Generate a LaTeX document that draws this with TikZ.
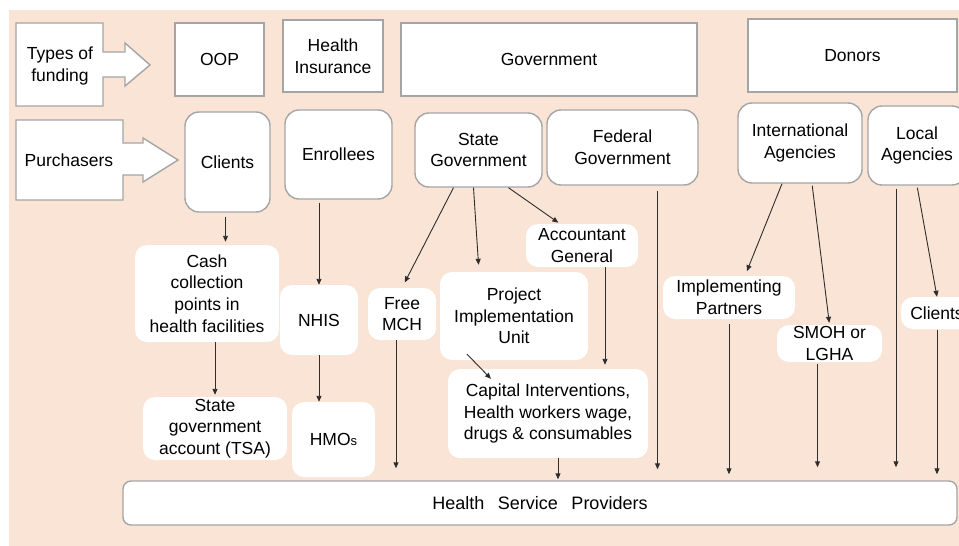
\documentclass[tikz,border=0pt]{standalone}
\usepackage{fontspec}
\setmainfont{Liberation Sans}
\usepackage{tikz}
\usetikzlibrary{arrows.meta}
\definecolor{peach}{RGB}{250,228,214}
\definecolor{boxgray}{RGB}{165,165,165}
\definecolor{linegray}{RGB}{45,45,45}
\newcommand{\lbl}{\fontsize{17.5}{21.7}\selectfont}

\begin{document}
\begin{tikzpicture}[
		x=1pt, y=-1pt,
		>={Triangle[length=6pt,width=5pt]},
		every node/.style={font=\lbl, align=center, inner sep=0pt},
		dims/.style 2 args={minimum width=#1pt, minimum height=#2pt},
		fund/.style={rectangle, draw=boxgray, line width=1.4pt, fill=white},
		payer/.style={fund, rounded corners=14pt},
		channel/.style={rectangle, fill=white, rounded corners=12pt},
		outline/.style={draw=boxgray, line width=1.4pt, fill=white},
		flow/.style={->, draw=linegray, line width=0.9pt}]

	\path[use as bounding box] (0,0) rectangle (959,546);
	\clip (0,0) rectangle (959,546);
	\fill[peach] (9,10) rectangle (959,546);

	% row headers
	\draw[outline] (16,23) -- (103,23) -- (103,52) -- (125,52) -- (125,43) -- (150,65)
		-- (125,86) -- (125,77) -- (103,77) -- (103,106) -- (16,106) -- cycle;
	\node (funding) at (60,66) {Types of\\funding};
	\draw[outline] (16,120) -- (123,120) -- (123,143) -- (143,143) -- (143,138) -- (178,160)
		-- (143,182) -- (143,175) -- (123,175) -- (123,200) -- (16,200) -- cycle;
	\node (purchasers) at (69,160) {Purchasers};

	% types of funding
	\node[fund, dims={89}{73}] (oop) at (219.5,59.5) {OOP};
	\node[fund, dims={100}{72}] (insurance) at (333,56) {Health\\Insurance};
	\node[fund, dims={296}{73}] (government) at (549,59.5) {Government};
	\node[fund, dims={209}{73}] (donors) at (852.5,55.5) {Donors};

	% purchasers
	\node[payer, dims={85}{100}] (clients) at (227.5,162) {Clients};
	\node[payer, dims={107}{89}] (enrollees) at (338.5,154.5) {Enrollees};
	\node[payer, dims={127}{74}] (stategov) at (478.5,150) {State\\Government};
	\node[payer, dims={151}{75}] (fedgov) at (622.5,147.5) {Federal\\Government};
	\node[payer, dims={124}{80}] (intlagencies) at (800,143) {International\\Agencies};
	\node[payer, dims={98}{79}] (localagencies) at (917,145.5) {Local\\Agencies};

	% channels
	\node[channel, dims={144}{97}] (cash) at (207,293.5) {Cash\\collection\\points in\\health facilities};
	\node[channel, dims={144}{63}] (tsa) at (215,428.5) {State\\government\\account (TSA)};
	\node[channel, dims={78}{70}] (nhis) at (319,320) {NHIS};
	\node[channel, dims={83}{75}] (hmos) at (333.5,439.5) {HMO{\fontsize{13}{13}\selectfont s}};
	\node[channel, dims={68}{52}] (freemch) at (402,314) {Free\\MCH};
	\node[channel, dims={148}{88}] (piu) at (514,316) {Project\\Implementation\\Unit};
	\node[channel, dims={112}{43}] (accgeneral) at (582,245.5) {Accountant\\General};
	\node[channel, dims={200}{89}] (capital) at (548,413.5) {Capital Interventions,\\Health workers wage,\\drugs \& consumables};
	\node[channel, dims={132}{43}] (partners) at (729,297.5) {Implementing\\Partners};
	\node[channel, dims={105}{37}] (smoh) at (829.5,343.5) {SMOH or\\LGHA};
	\node[channel, dims={72}{32}] (clientsb) at (937,313) {Clients};

	\node[fund, rounded corners=8pt, dims={834}{44}, font=\fontsize{18}{22}\selectfont] (providers) at (540,503)
		{Health\hspace{0.75em}Service\hspace{0.75em}Providers};

	% out of pocket and insurance
	\draw[flow, shorten <=4pt, shorten >=3pt] ([xshift=-2pt]clients.south) -- ([xshift=-2pt]clients.south |- cash.north);
	\draw[flow, shorten >=2pt] (tsa.north |- cash.south) -- (tsa.north);
	\draw[flow, shorten <=3pt] (nhis.north |- enrollees.south) -- (nhis.north);
	\draw[flow] (nhis.south) -- (nhis.south |- hmos.north);

	% government
	\draw[flow, shorten >=6pt] ([xshift=-25pt]stategov.south) -- (freemch.north);
	\draw[flow, shorten >=7pt] ([xshift=-5pt]stategov.south) -- ([xshift=-35pt]piu.north);
	\draw[flow, shorten >=2pt] ([xshift=30pt]stategov.south) -- ([xshift=-22pt]accgeneral.north);
	\draw[flow] ([xshift=-47pt,yshift=6pt]piu.south) -- ([xshift=-57pt,yshift=-10pt]capital.north);
	\draw[flow, shorten >=4pt] ([xshift=23pt]accgeneral.south) -- ([xshift=23pt]accgeneral.south |- capital.north);

	% donors
	\draw[flow, shorten >=5pt] ([xshift=-18pt]intlagencies.south) -- ([xshift=16pt]partners.north);
	\draw[flow, shorten <=2pt, shorten >=2pt] ([xshift=12pt]intlagencies.south) -- (smoh.north);
	\draw[flow, shorten <=2pt] (localagencies.south) -- (clientsb.north);

	% into the providers
	\draw[flow, shorten >=12pt] ([xshift=-6pt]freemch.south) -- ([xshift=-6pt]freemch.south |- providers.north);
	\draw[flow, shorten >=1pt] ([xshift=10pt]capital.south) -- ([xshift=10pt]capital.south |- providers.north);
	\draw[flow, shorten <=5pt, shorten >=11pt] ([xshift=35pt]fedgov.south) -- ([xshift=35pt]fedgov.south |- providers.north);
	\draw[flow, shorten <=5pt, shorten >=6pt] (partners.south) -- (partners.south |- providers.north);
	\draw[flow, shorten <=2pt, shorten >=13pt] ([xshift=-12pt]smoh.south) -- ([xshift=-12pt]smoh.south |- providers.north);
	\draw[flow, shorten <=3pt, shorten >=13pt] ([xshift=-21pt]localagencies.south) -- ([xshift=-21pt]localagencies.south |- providers.north);
	\draw[flow, shorten <=1pt, shorten >=6pt] (clientsb.south) -- (clientsb.south |- providers.north);

\end{tikzpicture}
\end{document}
